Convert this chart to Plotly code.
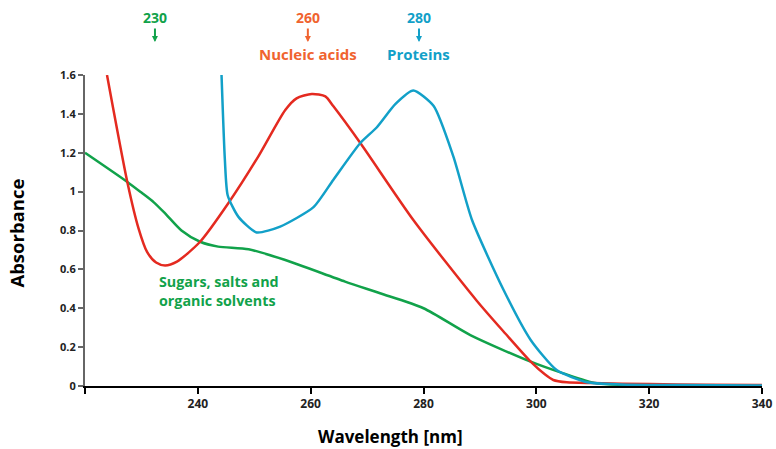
import plotly.graph_objects as go

# Nucleic acids (red)
nuc_x = [223.9, 227.5, 229.5, 231.0, 232.6, 234.2, 236.3, 240.4, 245.4, 250.7, 255.5, 257.5, 260.2, 262.6, 264.0, 268.8, 278.2, 289.4, 294.5, 299.0, 301.5, 303.0, 305.4, 310.0, 320.0, 330.0, 340.0]
nuc_y = [1.60, 1.05, 0.81, 0.69, 0.635, 0.62, 0.64, 0.742, 0.94, 1.18, 1.42, 1.48, 1.502, 1.49, 1.44, 1.25, 0.854, 0.44, 0.27, 0.125, 0.06, 0.031, 0.019, 0.015, 0.01, 0.007, 0.005]

# Proteins (blue)
pro_x = [244.2, 244.8, 245.3, 247.2, 250.4, 254.6, 260.5, 264.0, 268.8, 271.7, 275.0, 278.2, 281.8, 285.3, 288.6, 294.2, 299.0, 303.6, 309.0, 315.0, 325.0, 340.0]
pro_y = [1.60, 1.16, 0.98, 0.87, 0.79, 0.82, 0.92, 1.06, 1.25, 1.33, 1.45, 1.52, 1.44, 1.18, 0.854, 0.494, 0.237, 0.082, 0.019, 0.008, 0.005, 0.003]

# Sugars, salts and organic solvents (green)
sug_x = [220.0, 227.5, 230.0, 232.2, 234.2, 237.1, 240.4, 243.6, 249.0, 255.5, 266.1, 272.3, 280.0, 288.3, 299.0, 304.8, 310.7, 320.0, 340.0]
sug_y = [1.20, 1.05, 0.995, 0.945, 0.888, 0.80, 0.742, 0.717, 0.703, 0.648, 0.537, 0.477, 0.40, 0.262, 0.125, 0.065, 0.014, 0.003, 0.0]

x_ticks = [220, 240, 260, 280, 300, 320, 340]
x_tick_text = ["", "240", "260", "280", "300", "320", "340"]
y_ticks = [0, 0.2, 0.4, 0.6, 0.8, 1.0, 1.2, 1.4, 1.6]
y_tick_text = ["0", "0.2", "0.4", "0.6", "0.8", "1", "1.2", "1.4", "1.6"]

RED = "#e42a20"
BLUE = "#12a0c8"
GREEN = "#11a24a"
ORANGE = "#f0632f"
FONT = "Open Sans"

ML, MR, MT, MB = 85, 14, 75, 63
PLOT_H = 449 - MT - MB
PLOT_W = 776 - ML - MR


def py(px_above_top):
    """paper y for a position px pixels above the plot-area top"""
    return 1 + px_above_top / PLOT_H


fig = go.Figure()
fig.add_trace(go.Scatter(x=sug_x, y=sug_y, mode="lines",
                         line=dict(color=GREEN, width=2.5, shape="spline", smoothing=0.7),
                         showlegend=False))
fig.add_trace(go.Scatter(x=nuc_x, y=nuc_y, mode="lines",
                         line=dict(color=RED, width=2.5, shape="spline", smoothing=0.7),
                         showlegend=False))
fig.add_trace(go.Scatter(x=pro_x, y=pro_y, mode="lines",
                         line=dict(color=BLUE, width=2.5, shape="spline", smoothing=0.6),
                         showlegend=False))

annos = []
for wl, lab, col, sub in [(232.4, "230", GREEN, None), (259.5, "260", ORANGE, "Nucleic acids"), (279.2, "280", BLUE, "Proteins")]:
    annos.append(dict(x=wl, y=py(MT - 17), xref="x", yref="paper", yanchor="middle", text="<b>%s</b>" % lab,
                      showarrow=False, font=dict(family=FONT, size=14, color=col)))
    annos.append(dict(x=wl, y=py(MT - 42), xref="x", yref="paper", text="",
                      showarrow=True, ax=0, ay=-15, arrowhead=2, arrowsize=0.6, arrowwidth=2,
                      arrowcolor=col, standoff=0))
    if sub:
        annos.append(dict(x=wl, y=py(MT - 54), xref="x", yref="paper", yanchor="middle", text="<b>%s</b>" % sub,
                          showarrow=False, font=dict(family=FONT, size=15, color=col)))

annos.append(dict(x=232.8, y=0.489, xref="x", yref="y", xanchor="left", yanchor="middle",
                  text="<b>Sugars, salts and<br>organic solvents</b>", align="left",
                  showarrow=False, font=dict(family=FONT, size=14.3, color=GREEN)))

# axis titles as annotations (positioned as in the reference)
annos.append(dict(x=274.1, y=-50 / PLOT_H, xref="x", yref="paper", xanchor="center", yanchor="middle",
                  text="<b>Wavelength [nm]</b>", showarrow=False,
                  font=dict(family=FONT, size=17, color="black")))
annos.append(dict(x=-(ML - 17) / PLOT_W, y=0.49, xref="paper", yref="paper", xanchor="center", yanchor="middle",
                  text="<b>Absorbance</b>", textangle=-90, showarrow=False,
                  font=dict(family=FONT, size=18.5, color="black")))

fig.update_layout(
    width=776, height=449,
    margin=dict(l=ML, r=MR, t=MT, b=MB, autoexpand=False),
    plot_bgcolor="white", paper_bgcolor="white",
    annotations=annos,
    xaxis=dict(range=[220, 340], tickvals=x_ticks, ticktext=x_tick_text, automargin=False,
               showgrid=False, zeroline=False, showline=True, linecolor="black", linewidth=2,
               ticks="outside", ticklen=6, tickwidth=1.5, tickcolor="black",
               tickfont=dict(family=FONT, size=12, color="#222", weight="bold")),
    yaxis=dict(range=[0, 1.6], tickvals=y_ticks, ticktext=y_tick_text, automargin=False,
               showgrid=False, zeroline=False, showline=True, linecolor="#666", linewidth=2,
               ticks="outside", ticklen=5, tickwidth=1.5, tickcolor="#666",
               tickfont=dict(family=FONT, size=11, color="#222", weight="bold")),
)

fig.write_html("out.html", config={"displayModeBar": False},
               post_script="document.body.style.margin='0';document.body.style.overflow='hidden';")
